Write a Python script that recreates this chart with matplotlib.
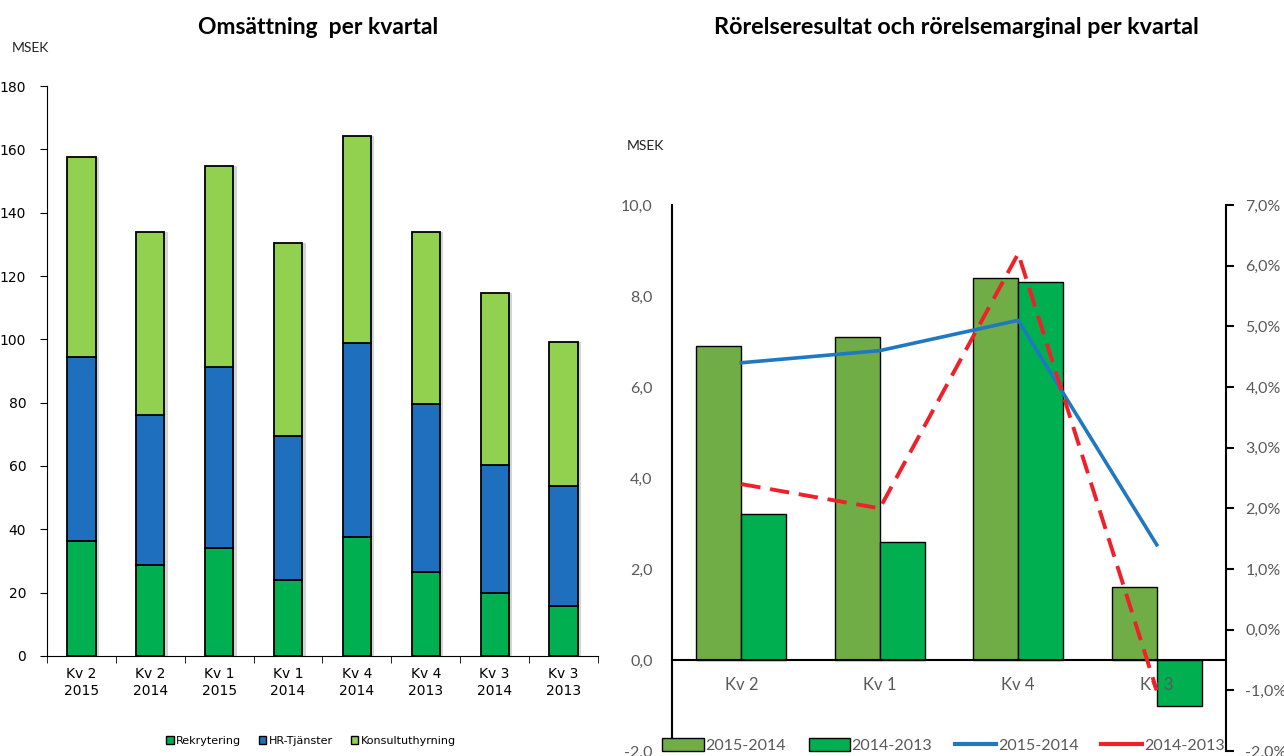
import matplotlib.pyplot as plt
from matplotlib.patches import Patch
from matplotlib.lines import Line2D
import numpy as np

# left chart data (MSEK)
quarters = ["Kv 2\n2015", "Kv 2\n2014", "Kv 1\n2015", "Kv 1\n2014",
            "Kv 4\n2014", "Kv 4\n2013", "Kv 3\n2014", "Kv 3\n2013"]
rekrytering = [36.3, 28.7, 34.1, 24.0, 37.6, 26.5, 19.9, 15.8]
hr_tjanster = [58.1, 47.4, 57.2, 45.5, 61.2, 53.1, 40.4, 37.9]
konsult = [63.2, 57.8, 63.4, 60.9, 65.4, 54.3, 54.3, 45.5]

# right chart data
kv_labels = ["Kv 2", "Kv 1", "Kv 4", "Kv 3"]
res_1514 = [6.9, 7.1, 8.4, 1.6]
res_1413 = [3.2, 2.6, 8.3, -1.0]
marg_1514 = [4.4, 4.6, 5.1, 1.4]
marg_1413 = [2.4, 2.0, 6.2, -1.0]

C_REK = "#00b050"
C_HR = "#1f6fbf"
C_KON = "#92d050"
C_G1 = "#70ad47"
C_G2 = "#00b050"
C_BLUE = "#1f78c1"
C_RED = "#f0202a"
GREY = "#595959"
RFONT = "Lato"


def left_chart(fig):
    ax = fig.add_axes([0.0366, 0.1323, 0.4291, 0.7539])
    x = np.arange(len(quarters))
    w = 0.41
    tot = np.array(rekrytering) + np.array(hr_tjanster) + np.array(konsult)
    # soft shadow right of each bar
    ax.bar(x + 0.05, tot, w, color="#d4d4d4", zorder=1)
    kw = dict(width=w, edgecolor="black", linewidth=1.3, zorder=2)
    ax.bar(x, rekrytering, color=C_REK, **kw)
    ax.bar(x, hr_tjanster, bottom=rekrytering, color=C_HR, **kw)
    ax.bar(x, konsult, bottom=np.array(rekrytering) + np.array(hr_tjanster),
           color=C_KON, **kw)

    ax.set(xlim=(-0.5, 7.5), ylim=(0, 180), yticks=np.arange(0, 181, 20))
    ax.set_xticks(x)
    ax.set_xticklabels(quarters, fontsize=10, linespacing=1.25)
    ax.set_xticks(np.arange(-0.5, 8, 1), minor=True)
    ax.tick_params(axis="x", which="major", length=0, pad=8)
    ax.tick_params(axis="x", which="minor", length=5, direction="out")
    ax.tick_params(axis="y", labelsize=10, length=5, pad=10)
    for s in ["top", "right"]:
        ax.spines[s].set_visible(False)

    handles = [Patch(facecolor=c, edgecolor="black", label=l)
               for c, l in [(C_REK, "Rekrytering"), (C_HR, "HR-Tjänster"),
                            (C_KON, "Konsultuthyrning")]]
    fig.legend(handles=handles, loc="center", bbox_to_anchor=(0.242, 0.020),
               ncol=3, frameon=False, fontsize=8, handlelength=0.7,
               handleheight=0.7, handletextpad=0.2, columnspacing=1.6)
    fig.text(0.248, 0.963, "Omsättning  per kvartal", ha="center", va="center",
             fontsize=16.5, fontweight="bold", family="Lato")
    fig.text(0.009, 0.937, "MSEK", fontsize=10, family=RFONT,
             va="center", color="#222222")


def right_chart(fig):
    ax = fig.add_axes([0.5234, 0.0066, 0.4314, 0.7222])
    x = np.arange(len(kv_labels))
    w = 0.325
    ax.bar(x - w / 2, res_1514, w, color=C_G1, edgecolor="black", linewidth=1.0,
           label="2015-2014", zorder=2)
    ax.bar(x + w / 2, res_1413, w, color=C_G2, edgecolor="black", linewidth=1.0,
           label="2014-2013", zorder=2)
    ax.set_axisbelow(False)
    ax.set(xlim=(-0.5, 3.5), ylim=(-2, 10), yticks=np.arange(-2, 11, 2))
    ax.yaxis.set_major_formatter(lambda v, pos: f"{v:.1f}".replace(".", ","))
    ax.spines["bottom"].set_position(("data", 0))
    ax.spines["bottom"].set_linewidth(1.5)
    ax.spines["left"].set_linewidth(1.5)
    ax.spines["top"].set_visible(False)
    ax.spines["right"].set_visible(False)
    ax.set_xticks(x)
    ax.set_xticklabels(kv_labels, fontsize=12, color=GREY, family=RFONT)
    ax.tick_params(axis="x", length=0, pad=12)
    ax.tick_params(axis="y", length=0, pad=14, labelsize=11.5, labelcolor=GREY)
    for t in ax.get_yticklabels():
        t.set_family(RFONT)

    ax2 = ax.twinx()
    ax2.plot(x, marg_1514, color=C_BLUE, lw=2.6, label="2015-2014", zorder=3)
    ax2.plot(x, marg_1413, color=C_RED, lw=2.8, ls=(0, (5, 2.5)),
             label="2014-2013", zorder=3)
    ax2.set(ylim=(-2, 7), yticks=np.arange(-2, 8, 1))
    ax2.yaxis.set_major_formatter(lambda v, pos: f"{v:.1f}%".replace(".", ","))
    for s in ["top", "left", "bottom"]:
        ax2.spines[s].set_visible(False)
    ax2.spines["right"].set_linewidth(1.5)
    ax2.tick_params(axis="y", length=6, width=1.5, pad=8, labelsize=11.5,
                    labelcolor=GREY)
    for t in ax2.get_yticklabels():
        t.set_family(RFONT)

    h = [Patch(facecolor=C_G1, edgecolor="black", label="2015-2014"),
         Patch(facecolor=C_G2, edgecolor="black", label="2014-2013"),
         Line2D([], [], color=C_BLUE, lw=3, label="2015-2014"),
         Line2D([], [], color=C_RED, lw=3, label="2014-2013")]
    leg = ax2.legend(handles=h, loc="lower center", bbox_to_anchor=(0.49, -0.018),
                     ncol=4, frameon=False, fontsize=11.5, handlelength=2.6,
                     handleheight=0.9, handletextpad=0.1, columnspacing=1.4,
                     borderaxespad=0.1)
    for t in leg.get_texts():
        t.set_color(GREY)
        t.set_family(RFONT)

    fig.text(0.745, 0.963, "Rörelseresultat och rörelsemarginal per kvartal",
             ha="center", va="center", fontsize=16.8, fontweight="bold", family="Lato")
    fig.text(0.488, 0.807, "MSEK", fontsize=10, family=RFONT,
             va="center", color="#222222")


def main():
    fig = plt.figure(figsize=(12.84, 7.56), dpi=100)
    left_chart(fig)
    right_chart(fig)
    fig.savefig("out.png", dpi=100)


main()
